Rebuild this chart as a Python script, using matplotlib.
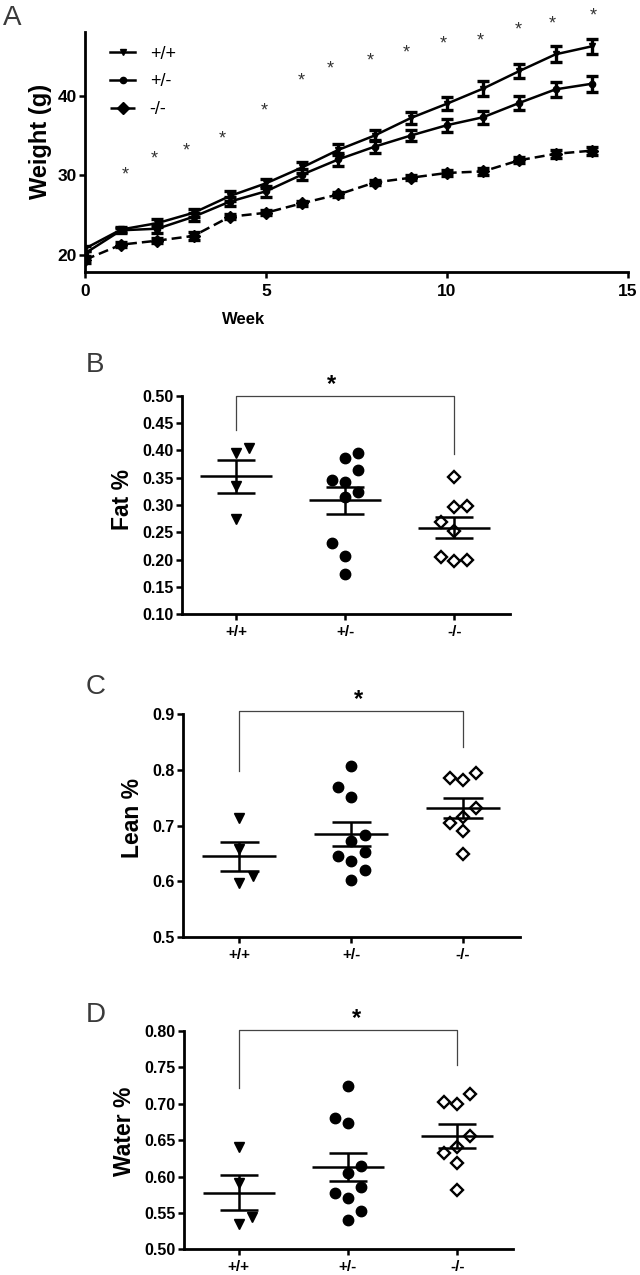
import matplotlib.pyplot as plt
import numpy as np

plt.rcParams['font.family'] = ['Liberation Sans', 'DejaVu Sans']

# ---- panel A: body weight over time (mean, SEM) ----
weeks = list(range(15))
wt_mean = [20.8, 23.2, 24.0, 25.3, 27.4, 29.0, 31.0, 33.2, 35.0, 37.2, 39.0, 40.9, 43.1, 45.2, 46.2]
wt_sem = [0.3, 0.3, 0.5, 0.5, 0.6, 0.6, 0.7, 0.7, 0.7, 0.7, 0.8, 0.9, 0.9, 1.0, 0.9]
het_mean = [20.2, 23.1, 23.3, 24.8, 26.7, 28.0, 30.1, 32.0, 33.6, 35.0, 36.3, 37.3, 39.1, 40.8, 41.5]
het_sem = [0.3, 0.3, 0.6, 0.5, 0.6, 0.7, 0.7, 0.8, 0.8, 0.7, 0.8, 0.8, 0.9, 0.9, 1.0]
ko_mean = [19.4, 21.3, 21.8, 22.4, 24.8, 25.3, 26.5, 27.6, 29.1, 29.7, 30.3, 30.5, 31.9, 32.7, 33.1]
ko_sem = [0.4, 0.3, 0.3, 0.5, 0.3, 0.3, 0.3, 0.3, 0.3, 0.3, 0.4, 0.4, 0.4, 0.5, 0.5]
star_x = [1.1, 1.9, 2.8, 3.8, 4.95, 5.97, 6.77, 7.87, 8.87, 9.9, 10.93, 11.96, 12.9, 14.04]
star_y = [30.1, 32.0, 33.1, 34.6, 38.1, 41.9, 43.3, 44.4, 45.4, 46.5, 46.9, 48.2, 49.0, 50.0]

# ---- panels B-D: individual animals ----
genotypes = ['+/+', '+/-', '-/-']

fat_wt = [0.396, 0.405, 0.334, 0.274]
fat_het = [0.3855, 0.3946, 0.364, 0.346, 0.343, 0.323, 0.315, 0.231, 0.207, 0.174]
fat_ko = [0.352, 0.296, 0.299, 0.268, 0.253, 0.204, 0.198, 0.199]

lean_wt = [0.713, 0.659, 0.610, 0.598]
lean_het = [0.807, 0.770, 0.752, 0.684, 0.672, 0.653, 0.646, 0.637, 0.620, 0.603]
lean_ko = [0.785, 0.782, 0.794, 0.732, 0.716, 0.705, 0.690, 0.649]

water_wt = [0.641, 0.591, 0.545, 0.535]
water_het = [0.724, 0.681, 0.674, 0.6145, 0.6045, 0.586, 0.578, 0.571, 0.552, 0.540]
water_ko = [0.702, 0.700, 0.713, 0.656, 0.640, 0.632, 0.618, 0.582]

# scatter column slot for each point (-1 left, 0 centre, +1 right)
fat_slots = [[0, 1, 0, 0], [0, 1, 1, -1, 0, 1, 0, -1, 0, 0], [0, 0, 1, -1, 0, -1, 0, 1]]
lean_slots = [[0, 0, 1, 0], [0, -1, 0, 1, 0, 1, -1, 0, 1, 0], [-1, 0, 1, 1, 0, -1, 0, 0]]
water_slots = [[0, 0, 1, 0], [0, -1, 0, 1, 0, 1, -1, 0, 1, 0], [-1, 0, 1, 1, 0, -1, 0, 0]]

# significance brackets: (left leg end, top, right leg end)
fat_bracket = (0.437, 0.500, 0.393)
lean_bracket = (0.798, 0.906, 0.840)
water_bracket = (0.721, 0.802, 0.753)

fig = plt.figure(figsize=(6.4, 12.75), dpi=100)


def style_axes(ax, fs):
    for s in ['top', 'right']:
        ax.spines[s].set_visible(False)
    for s in ['left', 'bottom']:
        ax.spines[s].set_linewidth(2.0)
    ax.tick_params(direction='out', length=4, width=1.8, labelsize=fs, pad=2)
    for lab in ax.get_xticklabels() + ax.get_yticklabels():
        lab.set_fontweight('bold')


# panel A
axA = fig.add_axes([85 / 640, 1 - 271.7 / 1275, 543 / 640, 239.7 / 1275])
axA.plot(weeks, wt_mean, color='k', lw=1.8, marker='v', ms=5, label='+/+')
axA.plot(weeks, het_mean, color='k', lw=1.8, marker='o', ms=4.5, label='+/-')
axA.plot(weeks, ko_mean, color='k', lw=1.8, ls=(0, (4, 2)), marker='D', ms=6, label='-/-')
for m, e in [(wt_mean, wt_sem), (het_mean, het_sem), (ko_mean, ko_sem)]:
    axA.errorbar(weeks, m, yerr=e, fmt='none', ecolor='k', elinewidth=2.4,
                 capsize=4.5, capthick=2.4)
for x, y in zip(star_x, star_y):
    axA.text(x, y, '*', ha='center', va='center', fontsize=13, color='#333333',
             clip_on=False)
axA.set_xlim(0, 15)
axA.set_ylim(17.9, 48)
axA.set_xticks([0, 5, 10, 15])
axA.set_yticks([20, 30, 40])
style_axes(axA, 12.5)
axA.tick_params(axis='x', pad=5)
axA.set_xlabel('Week', fontsize=12, fontweight='bold', x=0.292, labelpad=9)
axA.set_ylabel('Weight (g)', fontsize=17, fontweight='bold', y=0.545, labelpad=4)
axA.legend(loc='upper left', bbox_to_anchor=(0.046, 0.943), frameon=False,
           fontsize=13, handlelength=1.4, handletextpad=0.8, labelspacing=0.6,
           borderpad=0, borderaxespad=0)

marker_styles = [
    dict(marker='v', ms=7, mfc='k', mec='k'),
    dict(marker='o', ms=7.5, mfc='k', mec='k'),
    dict(marker='D', ms=6, mfc='white', mec='k', mew=1.7),
]


def dot_panel(rect, groups, slots, ylim, yticks, fmt, ylabel, ylab_y, bracket, star_xpos):
    ax = fig.add_axes(rect)
    for i, (vals, sl) in enumerate(zip(groups, slots)):
        x = i + np.array(sl) * 0.12
        ax.plot(x, vals, ls='none', **marker_styles[i])
        m = np.mean(vals)
        se = np.std(vals, ddof=1) / np.sqrt(len(vals))
        ax.hlines(m, i - 0.33, i + 0.33, color='k', lw=1.8)
        ax.hlines([m - se, m + se], i - 0.175, i + 0.175, color='k', lw=1.8)
        ax.vlines(i, m - se, m + se, color='k', lw=1.8)
    lo, top, hi = bracket
    ax.plot([0, 0, 2, 2], [lo, top, top, hi], color='#444444', lw=0.9, clip_on=False)
    ax.annotate('*', (star_xpos, top), xytext=(0, 0), textcoords='offset points',
                ha='center', va='bottom', fontsize=17, fontweight='bold',
                annotation_clip=False)
    ax.set_xlim(-0.5, 2.51)
    ax.set_ylim(*ylim)
    ax.set_xticks(range(3))
    ax.set_xticklabels(genotypes)
    ax.set_yticks(yticks)
    ax.set_yticklabels([fmt % v for v in yticks])
    style_axes(ax, 11.5)
    ax.tick_params(axis='x', labelsize=11, pad=4)
    ax.set_ylabel(ylabel, fontsize=16.5, fontweight='bold', y=ylab_y, labelpad=6)
    return ax


dot_panel([181.7 / 640, 1 - 614.3 / 1275, 328.3 / 640, 218.6 / 1275],
          [fat_wt, fat_het, fat_ko], fat_slots, (0.10, 0.50),
          [0.10, 0.15, 0.20, 0.25, 0.30, 0.35, 0.40, 0.45, 0.50], '%.2f',
          'Fat %', 0.527, fat_bracket, 0.87)
dot_panel([183.3 / 640, 1 - 937.3 / 1275, 336.7 / 640, 223.3 / 1275],
          [lean_wt, lean_het, lean_ko], lean_slots, (0.5, 0.9),
          [0.5, 0.6, 0.7, 0.8, 0.9], '%.1f',
          'Lean %', 0.534, lean_bracket, 1.07)
dot_panel([184 / 640, 1 - 1249.3 / 1275, 329 / 640, 218.3 / 1275],
          [water_wt, water_het, water_ko], water_slots, (0.50, 0.80),
          [0.50, 0.55, 0.60, 0.65, 0.70, 0.75, 0.80], '%.2f',
          'Water %', 0.539, water_bracket, 1.08)

for letter, x, y in [('A', 3, 25), ('B', 86, 372), ('C', 86, 694), ('D', 86, 1022)]:
    fig.text(x / 640, 1 - y / 1275, letter, fontsize=20, color='#3a3a3a',
             ha='left', va='baseline')

fig.savefig('out.png', dpi=100)
